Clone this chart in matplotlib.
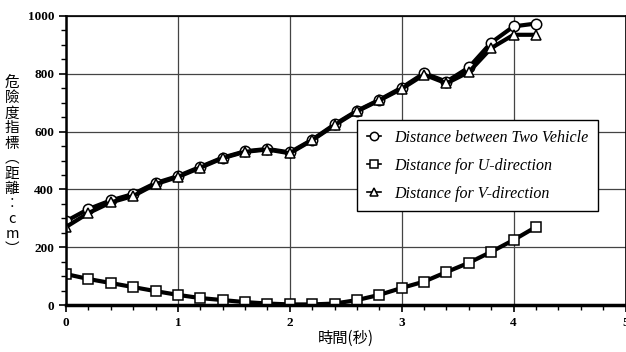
import numpy as np
import matplotlib.pyplot as plt
from matplotlib.ticker import MultipleLocator

# datos
t = [0.0, 0.2, 0.4, 0.6, 0.8, 1.0, 1.2, 1.4, 1.6, 1.8, 2.0,
     2.2, 2.4, 2.6, 2.8, 3.0, 3.2, 3.4, 3.6, 3.8, 4.0, 4.2]
dist_total = [290, 332, 362, 384, 422, 446, 478, 510, 532, 540, 528,
              572, 625, 672, 710, 752, 802, 773, 822, 908, 964, 974]
dist_u = [107, 90, 76, 62, 48, 35, 24, 17, 10, 5, 2,
          2, 5, 17, 35, 59, 81, 114, 146, 184, 225, 270]
dist_v = [270, 318, 355, 377, 418, 443, 475, 508, 530, 538, 525,
          570, 622, 670, 708, 748, 797, 767, 806, 889, 935, 935]

labels = ["Distance between Two Vehicle",
          "Distance for U-direction",
          "Distance for V-direction"]
xlabel = "時間(秒)"
ylabel = "危險度指標︵距離︰cm︶"

fig = plt.figure(figsize=(6.26, 3.52), dpi=100)
ax = fig.add_axes([66/626, 47/352, 559.5/626, 289/352])

mk = dict(color="black", lw=3, ms=7.5, mfc="white", mec="black", mew=1.1)
ax.plot(t, dist_total, marker="o", label=labels[0], **mk)
ax.plot(t, dist_u, marker="s", label=labels[1], **mk)
ax.plot(t, dist_v, marker="^", label=labels[2], **mk)

ax.set_xlim(0, 5)
ax.set_ylim(0, 1000)
ax.xaxis.set_major_locator(MultipleLocator(1))
ax.xaxis.set_minor_locator(MultipleLocator(0.2))
ax.yaxis.set_major_locator(MultipleLocator(200))
ax.yaxis.set_minor_locator(MultipleLocator(50))
ax.grid(True, which="major", color="#444444", lw=0.9)
ax.set_axisbelow(True)

ax.tick_params(which="both", direction="out", color="black")
ax.tick_params(which="major", length=5, width=1.2)
ax.tick_params(which="minor", length=3.5, width=1)
for lab in ax.get_xticklabels() + ax.get_yticklabels():
    lab.set_family("Liberation Serif")
    lab.set_fontweight("bold")
    lab.set_fontsize(9.5)

ax.spines["bottom"].set_linewidth(2.5)
ax.spines["left"].set_linewidth(1.8)
ax.spines["top"].set_linewidth(1.2)
ax.spines["right"].set_linewidth(1.2)

ax.set_xlabel(xlabel, family=["Noto Sans CJK TC", "DejaVu Sans"], fontsize=11, labelpad=1)
fig.text(0.019, 0.528, "\n".join(ylabel), family=["Noto Sans CJK TC", "DejaVu Sans"],
         fontsize=10.5, ha="center", va="center", linespacing=1.1, fontweight="medium")

leg = ax.legend(loc="upper left", bbox_to_anchor=(0.521, 0.64), frameon=True,
                fancybox=False, edgecolor="black", handlelength=0.9, handletextpad=0.8,
                borderpad=0.6, labelspacing=0.75, framealpha=1, borderaxespad=0,
                prop={"family": "Liberation Serif", "style": "italic", "size": 11.5})
leg.get_frame().set_linewidth(1.0)
for h in leg.legend_handles:
    h.set_linewidth(1.2)
    h.set_markersize(6)

fig.savefig("out.png", dpi=100)
